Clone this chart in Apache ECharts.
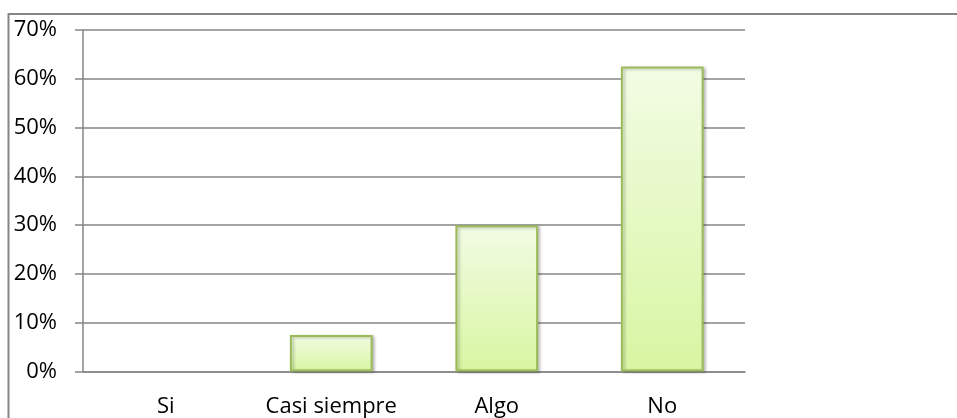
<!DOCTYPE html>
<html>
<head>
<meta charset="utf-8">
<style>
  html, body { margin: 0; padding: 0; background: #fff; }
  #chart { width: 957px; height: 418px; }
</style>
<script src="https://cdn.jsdelivr.net/npm/echarts@6/dist/echarts.min.js"></script>
</head>
<body>
<div id="chart"></div>
<script>
const categories = ['Si', 'Casi siempre', 'Algo', 'No']
const values = [0, 7.5, 30, 62.5]
const axisMax = 70
const axisStep = 10

const chart = echarts.init(document.getElementById('chart'))
const gray = '#868686'
const font = '"Open Sans", sans-serif'

chart.setOption({
  animation: false,
  graphic: [{
    type: 'rect',
    shape: { x: 8.5, y: 14, width: 1200, height: 600 },
    style: { fill: 'none', stroke: gray, lineWidth: 2 },
    silent: true
  }],
  grid: { left: 83, right: 212, top: 30, bottom: 46.5 },
  xAxis: {
    type: 'category',
    data: categories,
    axisLine: { lineStyle: { color: gray, width: 1.5 } },
    axisTick: { length: 8, interval: 0, lineStyle: { color: gray, width: 1.5 } },
    axisLabel: { interval: 0, color: '#000', fontFamily: font, fontSize: 22, margin: 24 }
  },
  yAxis: {
    type: 'value',
    min: 0,
    max: axisMax,
    interval: axisStep,
    axisLine: { show: true, lineStyle: { color: gray, width: 1.5 } },
    axisTick: { show: true, length: 8, lineStyle: { color: gray, width: 1.5 } },
    splitLine: { lineStyle: { color: gray, width: 1.5 } },
    axisLabel: { formatter: '{value}%', color: '#000', fontFamily: font, fontSize: 22, margin: 26 }
  },
  series: [{
    type: 'bar',
    // a zero bar is drawn as nothing in the reference, so no border for it
    data: values.map(v => v === 0 ? { value: v, itemStyle: { borderWidth: 0, shadowBlur: 0, opacity: 0 } } : v),
    barWidth: '50%',
    itemStyle: {
      color: new echarts.graphic.LinearGradient(0, 0, 0, 1, [
        { offset: 0, color: '#f2fce4' },
        { offset: 1, color: '#d8f6a2' }
      ]),
      borderColor: '#9bbb59',
      borderWidth: 2,
      shadowColor: 'rgba(0,0,0,0.25)',
      shadowBlur: 3,
      shadowOffsetX: 2,
      shadowOffsetY: 1
    }
  }]
})
</script>
</body>
</html>
